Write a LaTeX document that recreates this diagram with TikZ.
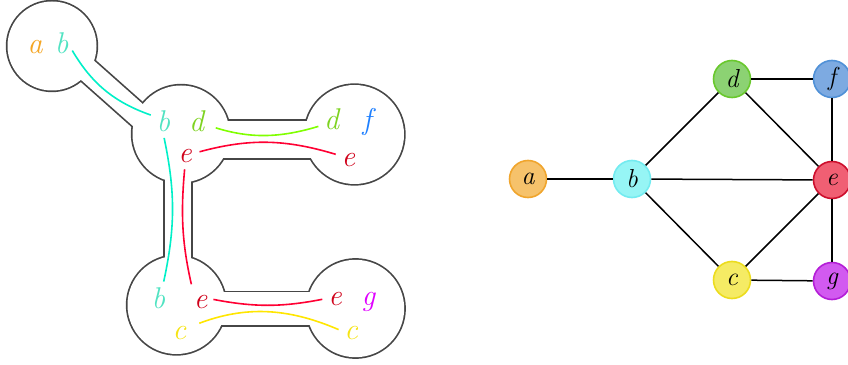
\documentclass[tikz,border=0pt]{standalone}
\usepackage{tikz}

% letters in the bags
\definecolor{bagGray}{RGB}{70,70,70}
\definecolor{letA}{RGB}{245,166,35}
\definecolor{letB}{RGB}{80,227,194}
\definecolor{letC}{RGB}{246,228,20}
\definecolor{letD}{RGB}{126,211,33}
\definecolor{letE}{RGB}{208,2,27}
\definecolor{letF}{RGB}{30,128,255}
\definecolor{letG}{RGB}{224,0,255}
% curves between copies
\definecolor{tieB}{RGB}{0,240,200}
\definecolor{tieC}{RGB}{255,230,0}
\definecolor{tieD}{RGB}{128,255,0}
\definecolor{tieE}{RGB}{255,0,51}
% graph vertices
\definecolor{fillA}{RGB}{246,194,107}
\definecolor{edgeA}{RGB}{240,165,45}
\definecolor{fillB}{RGB}{150,245,245}
\definecolor{edgeB}{RGB}{115,235,240}
\definecolor{fillC}{RGB}{245,235,100}
\definecolor{edgeC}{RGB}{236,220,30}
\definecolor{fillD}{RGB}{140,210,115}
\definecolor{edgeD}{RGB}{105,200,45}
\definecolor{fillE}{RGB}{240,95,115}
\definecolor{edgeE}{RGB}{205,15,45}
\definecolor{fillF}{RGB}{125,170,225}
\definecolor{edgeF}{RGB}{80,145,215}
\definecolor{fillG}{RGB}{210,90,240}
\definecolor{edgeG}{RGB}{180,30,215}

\begin{document}
\begin{tikzpicture}[
    x=1pt, y=1pt,
    % Bag outline: wide grey stroke, then white fill on top of it
    bagEdge/.style={draw=bagGray, line width=3.4pt},
    bagInside/.style={fill=white},
    % Vertex copy inside a bag (placed on its baseline)
    lbl/.style={
        inner sep=1pt, outer sep=1pt, anchor=base,
        font=\fontsize{30}{32}\selectfont\itshape
    },
    % Curve between two copies of one vertex
    tie/.style={line width=1.6pt, shorten <=4pt, shorten >=4pt},
    % Graph vertex
    vtx/.style={
        circle, minimum size=37pt, inner sep=0pt, line width=1.6pt,
        font=\fontsize{26}{26}\selectfont\itshape
    },
    link/.style={line width=1.5pt, draw=black}
]
\path[use as bounding box] (0,0) rectangle (848,364);
\clip (0,0) rectangle (848,364);
% ── Bags (tree decomposition, left) ─────────────────────────
\coordinate (bag1) at (52,318);
\coordinate (bag2) at (181,230);
\coordinate (bag3) at (354.5,229.5);
\coordinate (bag4) at (176.5,59);
\coordinate (bag5) at (355.5,55.5);
\foreach \look in {bagEdge, bagInside} {
    \path[\look] (bag1) circle[radius=44.5];
    \path[\look] (bag2) circle[radius=48.5];
    \path[\look] (bag3) circle[radius=49.5];
    \path[\look] (bag4) circle[radius=49];
    \path[\look] (bag5) circle[radius=48.7];
    % tubes between neighbouring bags
    \path[\look] (71.9,322.9) -- (154.1,249.9) -- (139.8,231.9)
                 -- (57.6,304.9) -- cycle;
    \path[\look] (200,205.7) rectangle (330,243.3);
    \path[\look] (165,84) rectangle (191,204);
    \path[\look] (200,39) rectangle (330,71.7);
}
% ── Vertex copies ────────────────────────────────────────────
\node[lbl, text=letA] (a1) at (35,310.7)    {a};
\node[lbl, text=letB] (b1) at (61.5,310.7)  {b};
\node[lbl, text=letB] (b2) at (163.3,232.3) {b};
\node[lbl, text=letD] (d2) at (196.7,232.3) {d};
\node[lbl, text=letE] (e2) at (185,201)     {e};
\node[lbl, text=letD] (d3) at (331.7,234)   {d};
\node[lbl, text=letF] (f3) at (367,234)     {f};
\node[lbl, text=letE] (e3) at (348.3,197)   {e};
\node[lbl, text=letB] (b4) at (158.3,55.7)  {b};
\node[lbl, text=letE] (e4) at (200.7,55.7)  {e};
\node[lbl, text=letC] (c4) at (179.3,25)    {c};
\node[lbl, text=letE] (e5) at (335,59)      {e};
\node[lbl, text=letG] (g5) at (368.3,59)    {g};
\node[lbl, text=letC] (c5) at (351,24)      {c};
% ── Curves joining the copies ────────────────────────────────
\draw[tie, draw=tieB] (b1.-25) to[bend right=20] (b2.150);
\draw[tie, draw=tieB] (b2.south) to[bend left=12] (b4.70);
\draw[tie, draw=tieD, shorten <=10pt] (d2.-20) to[bend right=17] (d3.210);
\draw[tie, draw=tieE, shorten <=6pt] (e2.20) to[bend left=16] (e3.150);
\draw[tie, draw=tieE, shorten >=9pt] (e2.south) to[bend right=9] (e4.130);
\draw[tie, draw=tieE] (e4.20) to[bend right=11] (e5.west);
\draw[tie, draw=tieC, shorten <=12pt] (c4.30) to[bend left=22] (c5.165);
% ── Graph (right) ────────────────────────────────────────────
\node[vtx, draw=edgeA, fill=fillA] (va) at (528,185) {a};
\node[vtx, draw=edgeB, fill=fillB] (vb) at (632,185) {b};
\node[vtx, draw=edgeD, fill=fillD] (vd) at (732,285) {d};
\node[vtx, draw=edgeF, fill=fillF] (vf) at (832,285) {f};
\node[vtx, draw=edgeE, fill=fillE] (ve) at (832,184) {e};
\node[vtx, draw=edgeC, fill=fillC] (vc) at (732,84)  {c};
\node[vtx, draw=edgeG, fill=fillG] (vg) at (832,83)  {g};
\draw[link] (va) -- (vb);
\draw[link] (vb) -- (vd);
\draw[link] (vb) -- (ve);
\draw[link] (vb) -- (vc);
\draw[link] (vd) -- (vf);
\draw[link] (vd) -- (ve);
\draw[link] (vf) -- (ve);
\draw[link] (ve) -- (vc);
\draw[link] (ve) -- (vg);
\draw[link] (vc) -- (vg);
\end{tikzpicture}
\end{document}
